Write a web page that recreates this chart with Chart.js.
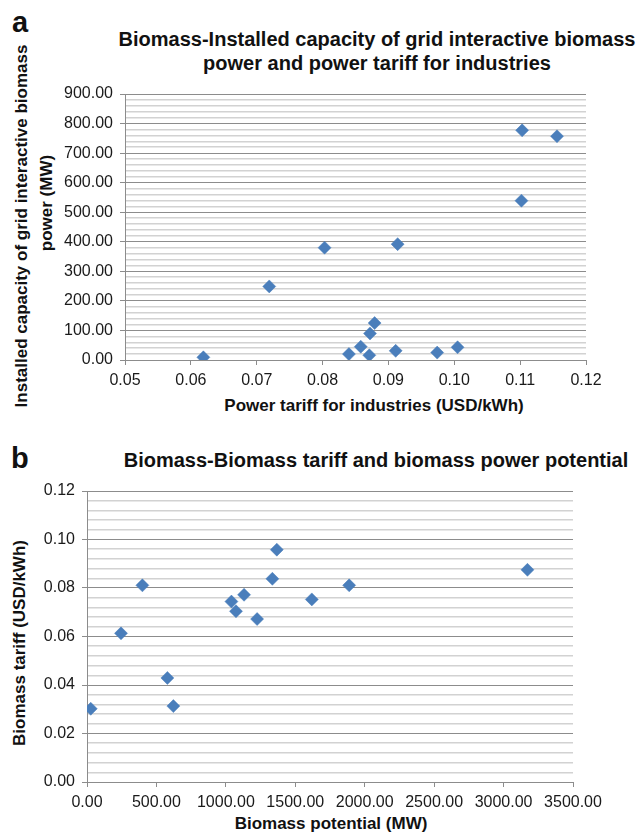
<!DOCTYPE html>
<html>
<head>
<meta charset="utf-8">
<script src="https://cdn.jsdelivr.net/npm/chart.js@4.4.0/dist/chart.umd.min.js"></script>
<style>
    html, body { margin: 0; padding: 0; background: #fff; }
    body { width: 644px; height: 837px; position: relative; overflow: hidden; font-family: "Liberation Sans", Arial, sans-serif; color: #111; }
    .box { position: absolute; }
    .panel { position: absolute; font-weight: bold; font-size: 29px; line-height: 29px; }
    .title { position: absolute; font-weight: bold; font-size: 20px; line-height: 24px; text-align: center; white-space: nowrap; }
    .axt { position: absolute; font-weight: bold; font-size: 17px; line-height: 20px; white-space: nowrap; transform: translate(-50%, -50%); }
    .rot { transform: translate(-50%, -50%) rotate(-90deg); }
</style>
</head>
<body>
    <div class="panel" style="left:12px; top:8px;">a</div>
    <div class="title" style="left:77px; width:600px; top:27px;">Biomass-Installed capacity of grid interactive biomass<br>power and power tariff for industries</div>
    <div class="axt rot" style="left:22px; top:226px;">Installed capacity of grid interactive biomass</div>
    <div class="axt rot" style="left:47px; top:203px;">power (MW)</div>
    <div class="axt" style="left:374px; top:406px;">Power tariff for industries (USD/kWh)</div>
    <div class="box" style="left:0; top:0; width:644px; height:420px;"><canvas id="chartA"></canvas></div>

    <div class="panel" style="left:11px; top:444px;">b</div>
    <div class="title" style="left:76px; width:600px; top:448px;">Biomass-Biomass tariff and biomass power potential</div>
    <div class="axt rot" style="left:20px; top:643px;">Biomass tariff (USD/kWh)</div>
    <div class="axt" style="left:331px; top:824px;">Biomass potential (MW)</div>
    <div class="box" style="left:0; top:430px; width:644px; height:407px;"><canvas id="chartB"></canvas></div>

<script>
// (a) power tariff for industries vs installed grid interactive biomass capacity
var tariffIndustries = [0.0619, 0.0719, 0.0803, 0.0840, 0.0858, 0.0871, 0.0872, 0.0879, 0.0911, 0.0914, 0.0974, 0.1005, 0.1102, 0.1103, 0.1156];
var installedCapacity = [9, 249, 380, 20, 45, 16, 90, 125, 31, 392, 25, 43, 539, 777, 757];

// (b) biomass potential vs biomass tariff
var biomassPotential = [27, 245, 399, 579, 622, 1040, 1073, 1131, 1225, 1335, 1367, 1619, 1888, 3172];
var biomassTariff = [0.0302, 0.0613, 0.0811, 0.0429, 0.0313, 0.0744, 0.0704, 0.0772, 0.0672, 0.0838, 0.0958, 0.0753, 0.0811, 0.0875];

// axis ranges: [min, max, labelled step, minor step]
var tariffAxisA = [0.05, 0.12, 0.01];
var capacityAxisA = [0, 900, 100, 20];
var potentialAxisB = [0, 3500, 500];
var tariffAxisB = [0, 0.12, 0.02, 0.004];

document.addEventListener('DOMContentLoaded', function() {
    var tickFont = { family: 'Liberation Sans', size: 16 };
    var major = '#8c8c8c';
    var minor = '#d2d2d2';
    var blue = '#4a7ebb';

    function toPoints(xs, ys) {
        return xs.map(function(x, i) { return { x: x, y: ys[i] }; });
    }

    function isMajor(value, axis) {
        var k = (value - axis[0]) / axis[2];
        return Math.abs(k - Math.round(k)) < 1e-6;
    }

    function xScale(axis) {
        return {
            type: 'linear', min: axis[0], max: axis[1],
            border: { color: major, width: 1 },
            grid: { drawOnChartArea: false, tickLength: 5, tickColor: major },
            ticks: {
                stepSize: axis[2], autoSkip: false, maxRotation: 0, padding: 6,
                color: '#1a1a1a', font: tickFont,
                callback: function(v) { return Number(v).toFixed(2); }
            },
            afterFit: function(s) { s.height = 40; }
        };
    }

    function yScale(axis, w) {
        return {
            type: 'linear', min: axis[0], max: axis[1],
            border: { color: major, width: 1 },
            grid: {
                tickLength: 5,
                color: function(c) { return c.tick && isMajor(c.tick.value, axis) ? major : minor; },
                lineWidth: function(c) { return c.tick && isMajor(c.tick.value, axis) ? 1 : 1.5; },
                tickColor: function(c) { return c.tick && isMajor(c.tick.value, axis) ? major : 'rgba(0,0,0,0)'; }
            },
            ticks: {
                stepSize: axis[3], autoSkip: false, padding: 7,
                color: '#1a1a1a', font: tickFont,
                callback: function(v) { return isMajor(v, axis) ? Number(v).toFixed(2) : ''; }
            },
            afterFit: function(s) { s.width = w; }
        };
    }

    function scatter(id, xs, ys, xAxis, yAxis, yWidth, pad) {
        var ctx = document.getElementById(id).getContext('2d');
        return new Chart(ctx, {
            type: 'scatter',
            data: {
                datasets: [{
                    data: toPoints(xs, ys),
                    pointStyle: 'rectRot',
                    pointRadius: 6.5,
                    pointBorderWidth: 0.5,
                    backgroundColor: blue,
                    borderColor: blue
                }]
            },
            options: {
                responsive: true,
                maintainAspectRatio: false,
                animation: false,
                events: [],
                layout: { padding: pad },
                plugins: { legend: { display: false }, title: { display: false }, tooltip: { enabled: false } },
                scales: { x: xScale(xAxis), y: yScale(yAxis, yWidth) }
            }
        });
    }

    // plot area a: 125..586 x 94..360, plot area b: 87..573 x 491..782
    scatter('chartA', tariffIndustries, installedCapacity, tariffAxisA, capacityAxisA, 125,
        { left: 0, right: 58, top: 94, bottom: 20 });
    scatter('chartB', biomassPotential, biomassTariff, potentialAxisB, tariffAxisB, 87,
        { left: 0, right: 71, top: 61, bottom: 15 });
});
</script>
</body>
</html>
